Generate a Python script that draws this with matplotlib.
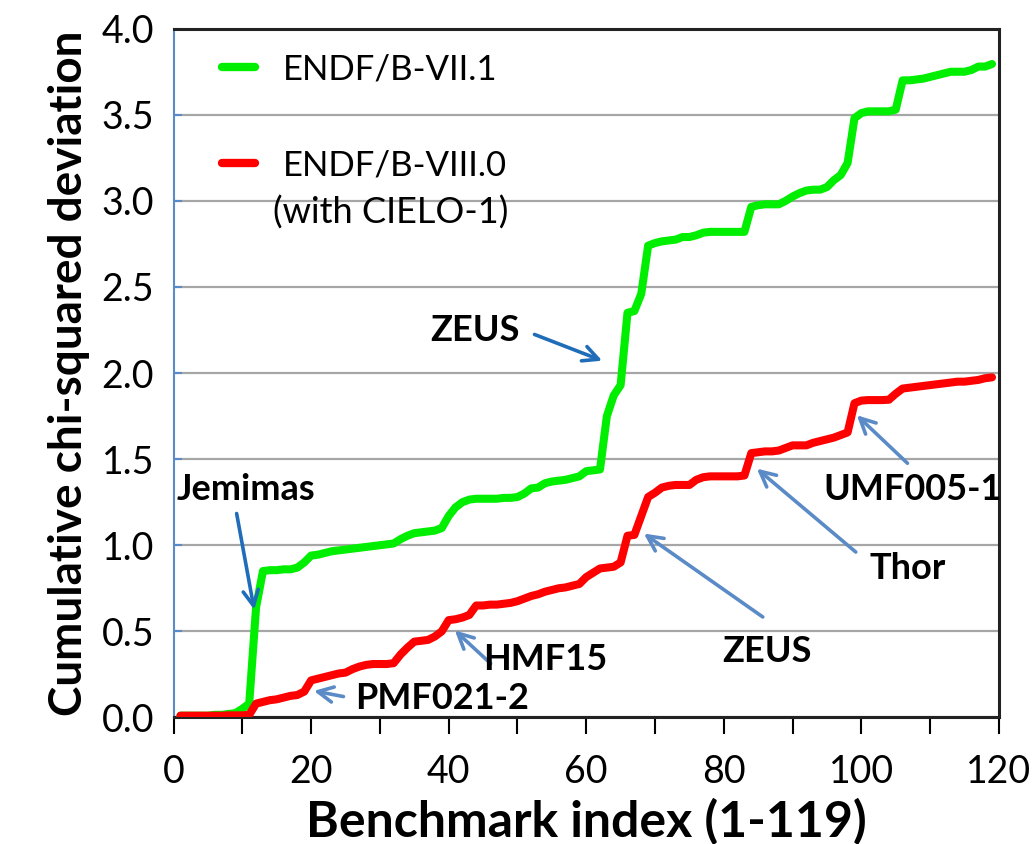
import numpy as np
import matplotlib
matplotlib.use('Agg')
import matplotlib.pyplot as plt

# benchmark index 1..119
index = np.arange(1, 120)

# cumulative chi-squared deviation, ENDF/B-VII.1
endf71 = [0.01, 0.01, 0.01, 0.01, 0.01, 0.015, 0.015, 0.02, 0.025, 0.05,
          0.08, 0.64, 0.85, 0.855, 0.855, 0.86, 0.86, 0.87, 0.90, 0.94,
          0.945, 0.955, 0.965, 0.97, 0.975, 0.98, 0.985, 0.99, 0.995, 1.0,
          1.005, 1.01, 1.035, 1.055, 1.07, 1.075, 1.08, 1.085, 1.10, 1.17,
          1.22, 1.25, 1.265, 1.27, 1.27, 1.27, 1.27, 1.275, 1.275, 1.28,
          1.30, 1.33, 1.335, 1.36, 1.37, 1.375, 1.38, 1.39, 1.40, 1.43,
          1.435, 1.44, 1.75, 1.87, 1.93, 2.35, 2.36, 2.46, 2.74, 2.755,
          2.765, 2.77, 2.775, 2.79, 2.79, 2.80, 2.815, 2.82, 2.82, 2.82,
          2.82, 2.82, 2.82, 2.965, 2.975, 2.98, 2.98, 2.98, 3.0, 3.025,
          3.045, 3.06, 3.065, 3.065, 3.08, 3.12, 3.15, 3.22, 3.48, 3.51,
          3.52, 3.52, 3.52, 3.52, 3.53, 3.70, 3.70, 3.705, 3.71, 3.72,
          3.73, 3.74, 3.75, 3.75, 3.75, 3.76, 3.78, 3.78, 3.795]

# cumulative chi-squared deviation, ENDF/B-VIII.0
endf80 = [0.01, 0.01, 0.01, 0.01, 0.01, 0.01, 0.01, 0.012, 0.012, 0.012,
          0.015, 0.08, 0.09, 0.10, 0.105, 0.115, 0.125, 0.13, 0.15, 0.215,
          0.225, 0.235, 0.245, 0.255, 0.26, 0.28, 0.295, 0.305, 0.31, 0.31,
          0.31, 0.315, 0.365, 0.405, 0.44, 0.445, 0.45, 0.47, 0.50, 0.565,
          0.57, 0.58, 0.595, 0.65, 0.65, 0.655, 0.655, 0.66, 0.665, 0.675,
          0.69, 0.705, 0.715, 0.73, 0.74, 0.75, 0.755, 0.765, 0.775, 0.815,
          0.84, 0.865, 0.87, 0.875, 0.90, 1.055, 1.06, 1.17, 1.28, 1.305,
          1.335, 1.345, 1.35, 1.35, 1.35, 1.38, 1.395, 1.40, 1.40, 1.40,
          1.40, 1.40, 1.405, 1.535, 1.54, 1.545, 1.545, 1.55, 1.565, 1.58,
          1.58, 1.58, 1.595, 1.605, 1.615, 1.625, 1.64, 1.655, 1.825, 1.84,
          1.843, 1.843, 1.843, 1.845, 1.88, 1.91, 1.915, 1.92, 1.925, 1.93,
          1.935, 1.94, 1.945, 1.95, 1.95, 1.955, 1.96, 1.97, 1.975]

# annotations: label, text position, arrow tip, arrow tail
notes = [
    ("Jemimas",  (10.5, 1.325), (11.8, 0.61),  (9.1, 1.20),  'dark'),
    ("ZEUS",     (43.8, 2.245), (62.7, 2.066), (52.1, 2.23), 'dark'),
    ("PMF021-2", (39.0, 0.11),  (20.0, 0.157), (25.1, 0.118), 'light'),
    ("HMF15",    (54.0, 0.337), (40.6, 0.516), (46.4, 0.302), 'light'),
    ("ZEUS",     (86.3, 0.38),  (68.05, 1.077), (86.0, 0.574), 'light'),
    ("Thor",     (106.7, 0.866), (84.5, 1.455), (99.5, 0.95), 'light'),
    ("UMF005-1", (107.4, 1.325), (99.05, 1.766), (107.0, 1.465), 'light'),
]
arrow_col = {'dark': '#1F6DB8', 'light': '#5B8BC6'}

plt.rcParams['font.family'] = ['Lato', 'DejaVu Sans']

fig = plt.figure(figsize=(10.33, 8.44), dpi=100)
ax = fig.add_axes([0.168, 0.150, 0.799, 0.816])

ax.plot(index, endf71, color='#00EE00', lw=5.8, solid_capstyle='round',
        solid_joinstyle='round', label='ENDF/B-VII.1', zorder=3)
ax.plot(index, endf80, color='#FF0000', lw=5.8, solid_capstyle='round',
        solid_joinstyle='round', label='ENDF/B-VIII.0', zorder=3)

for label, txt, tip, tail, c in notes:
    ax.text(txt[0], txt[1], label, ha='center', va='center',
            fontsize=26, fontweight='bold', zorder=5)
    ax.annotate('', xy=tip, xytext=tail,
                arrowprops=dict(arrowstyle='->,head_length=1.1,head_width=0.55',
                                color=arrow_col[c], lw=2.6), zorder=4)

ax.set_xlim(0, 120)
ax.set_ylim(0, 4.0)
ax.set_xticks(np.arange(0, 121, 20))
ax.set_xticks(np.arange(0, 121, 10), minor=True)
ax.set_yticks(np.arange(0, 4.01, 0.5))
ax.yaxis.set_major_formatter(matplotlib.ticker.FormatStrFormatter('%.1f'))
ax.grid(axis='y', color='#A6A6A6', lw=1.6, zorder=1)

ax.tick_params(axis='x', which='both', direction='out', length=12, width=1.5,
               labelsize=27, pad=14)
ax.tick_params(axis='y', direction='in', length=6, width=1.5,
               color='#5B8BC6', labelsize=27, pad=14)

for s in ['top', 'right', 'bottom']:
    ax.spines[s].set_color('#222222')
    ax.spines[s].set_linewidth(2.2)
ax.spines['left'].set_color('#5B8BC6')
ax.spines['left'].set_linewidth(1.5)

ax.set_xlabel('Benchmark index (1-119)', fontsize=36, fontweight='bold', labelpad=6)
ax.set_ylabel('Cumulative chi-squared deviation', fontsize=33, fontweight='bold', labelpad=8)

leg = ax.legend(loc='upper left', bbox_to_anchor=(0.021, 1.01), frameon=False,
                fontsize=25, handlelength=0.95, handletextpad=0.8, labelspacing=1.86)
for h in leg.get_lines():
    h.set_linewidth(6)
    h.set_solid_capstyle('round')
ax.text(31.5, 2.93, '(with CIELO-1)', ha='center', va='center', fontsize=26)

fig.savefig('out.png', dpi=100)
